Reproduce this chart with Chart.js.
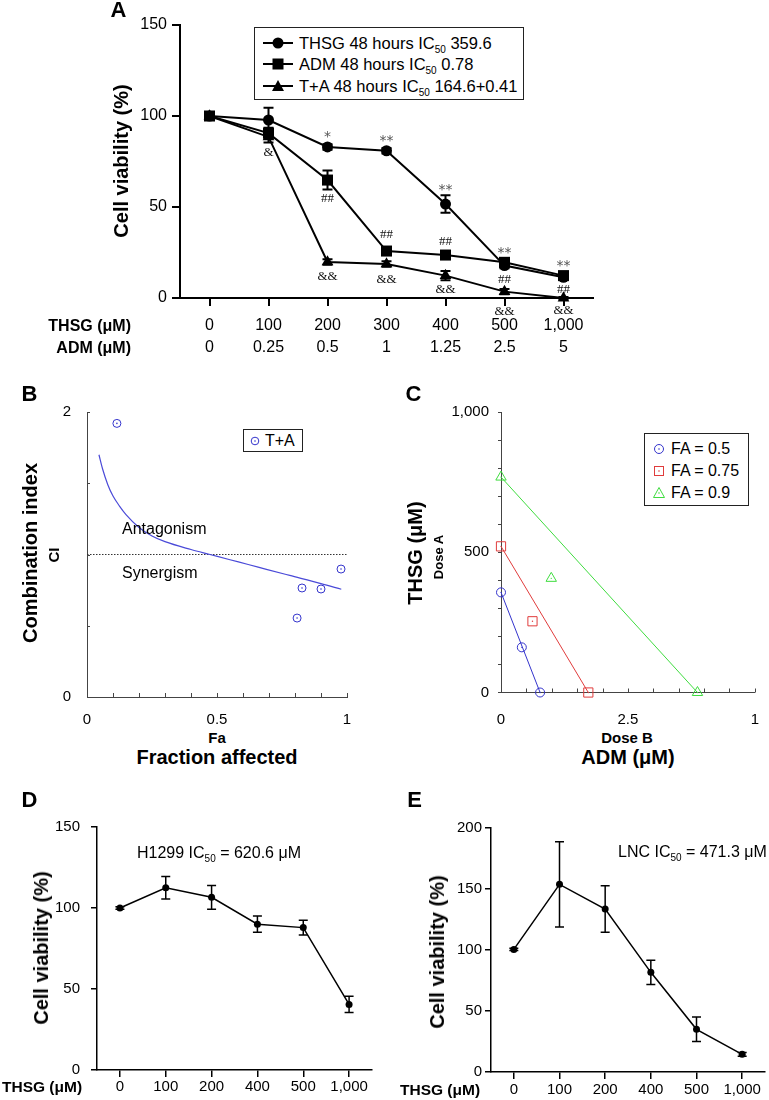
<!DOCTYPE html>
<html>
<head>
<meta charset="utf-8">
<script src="https://cdn.jsdelivr.net/npm/chart.js@4.4.0/dist/chart.umd.min.js"></script>
<style>
body { margin: 0; background: #fff; }
#page { position: relative; width: 769px; height: 1100px; overflow: hidden; color: #000;
        font-family: 'Liberation Sans', Arial, sans-serif; }
canvas { position: absolute; }
.t { position: absolute; white-space: nowrap; line-height: 1; }
.sub { font-size: 10px; vertical-align: -4px; line-height: 0; }
.lg { position: absolute; border: 1px solid #222; background: #fff; box-sizing: border-box; }
.lg svg, .lg span.row { position: absolute; }
.lg span.row { white-space: nowrap; line-height: 1; transform: translateY(-50%); }
</style>
</head>
<body>
<div id="page">
  <canvas id="cA" width="620" height="365" style="left:0;top:0"></canvas>
  <canvas id="cB" width="385" height="345" style="left:0;top:380px"></canvas>
  <canvas id="cC" width="379" height="345" style="left:390px;top:380px"></canvas>
  <canvas id="cD" width="385" height="320" style="left:0;top:780px"></canvas>
  <canvas id="cE" width="379" height="320" style="left:390px;top:780px"></canvas>
</div>
<script>
// ---- panel A: viability at 48 hours ----
const thsgDoses = ['0', '100', '200', '300', '400', '500', '1,000'];
const admDoses = ['0', '0.25', '0.5', '1', '1.25', '2.5', '5'];
const thsgViab = [100, 97.8, 83, 80.9, 51.6, 17.8, 11.4];
const thsgErr = [0, 6.8, 1.5, 1.5, 4.8, 1.5, 1.2];
const admViab = [100, 90.6, 64.8, 25.8, 23.6, 19.6, 12.3];
const admErr = [0, 3, 5.2, 1.5, 1.5, 1.5, 1.2];
const comboViab = [100, 88.5, 19.8, 18.7, 12.3, 3.5, 0];
const comboErr = [0, 3, 1.5, 1.5, 2.5, 1.5, 0.5];
const thsgSig = ['', '', '*', '**', '**', '**', '**'];
const admSig = ['', '', '##', '##', '##', '##', '##'];
const comboSig = ['', '&', '&&', '&&', '&&', '&&', '&&'];

// ---- panel B: combination index ----
const faPoints = [0.115, 0.808, 0.827, 0.9, 0.977];
const ciPoints = [1.92, 0.554, 0.765, 0.758, 0.898];
const faCurve = [0.046, 0.06, 0.08, 0.1, 0.125, 0.15, 0.2, 0.25, 0.3, 0.4, 0.473, 0.55, 0.62, 0.69, 0.78, 0.9, 0.978];
const ciCurve = [1.70, 1.60, 1.49, 1.41, 1.34, 1.28, 1.19, 1.13, 1.09, 1.035, 1.0, 0.963, 0.93, 0.896, 0.853, 0.796, 0.756];
const ciThreshold = 1;
const faTickVals = [0, 0.5, 1];
const faTickText = ['0', '0.5', '1'];
const ciTickVals = [0, 2];
const ciTickText = ['0', '2'];

// ---- panel C: isobologram ----
const fa50Adm = [0, 0.41, 0.77];
const fa50Thsg = [357, 161, 0];
const fa75Adm = [0, 0.62, 1.72];
const fa75Thsg = [521, 254, 0];
const fa90Adm = [0, 0.99, 3.87];
const fa90Thsg = [768, 407, 0];
const doseBTickVals = [0, 2.5, 5];
const doseBTickText = ['0', '2.5', '1'];
const doseATickVals = [0, 500, 1000];
const doseATickText = ['0', '500', '1,000'];

// ---- panels D, E: THSG alone ----
const singleDoses = ['0', '100', '200', '400', '500', '1,000'];
const h1299Viab = [100, 112.5, 106.6, 90, 87.9, 40.5];
const h1299Err = [0.8, 7, 7.3, 5, 4.5, 5];
const lncViab = [100.5, 153.8, 133.6, 81.7, 35, 14.5];
const lncErr = [1, 35, 19, 10, 10, 1.5];

const BLUE = '#3434cc', RED = '#e03c3c', GREEN = '#3fdc3f';

Chart.defaults.font.family = "'Liberation Sans', Arial, sans-serif";
Chart.defaults.color = '#000';
Chart.defaults.animation = false;
Chart.defaults.plugins.legend.display = false;
Chart.defaults.plugins.tooltip.enabled = false;

// vertical error bars with caps
const errorBars = {
  id: 'errorBars',
  afterDatasetsDraw(chart, args, opts) {
    const ctx = chart.ctx;
    const y = chart.scales.y;
    chart.data.datasets.forEach((ds, di) => {
      if (!ds.errors) return;
      const meta = chart.getDatasetMeta(di);
      ctx.save();
      ctx.strokeStyle = '#000';
      ctx.lineWidth = opts.width;
      meta.data.forEach((pt, i) => {
        const e = ds.errors[i];
        if (!e) return;
        const top = y.getPixelForValue(ds.data[i] + e);
        const bot = y.getPixelForValue(ds.data[i] - e);
        ctx.beginPath();
        ctx.moveTo(pt.x, top); ctx.lineTo(pt.x, bot);
        ctx.moveTo(pt.x - opts.cap, top); ctx.lineTo(pt.x + opts.cap, top);
        ctx.moveTo(pt.x - opts.cap, bot); ctx.lineTo(pt.x + opts.cap, bot);
        ctx.stroke();
      });
      ctx.restore();
    });
  }
};

// significance symbols next to points
const sigMarks = {
  id: 'sigMarks',
  afterDraw(chart, args, opts) {
    const ctx = chart.ctx;
    opts.sets.forEach(s => {
      const meta = chart.getDatasetMeta(s.ds);
      s.text.forEach((txt, i) => {
        if (!txt) return;
        const pt = meta.data[i];
        ctx.save();
        ctx.font = s.font;
        ctx.fillStyle = s.color;
        ctx.textAlign = 'center';
        ctx.textBaseline = 'middle';
        ctx.fillText(txt, pt.x, pt.y + s.dy[i]);
        ctx.restore();
      });
    });
  }
};

// short tick marks drawn inside the plot area
const innerTicks = {
  id: 'innerTicks',
  afterDraw(chart, args, opts) {
    const ctx = chart.ctx, a = chart.chartArea;
    ctx.save();
    ctx.strokeStyle = opts.color;
    ctx.lineWidth = 1;
    ctx.beginPath();
    if (opts.x) chart.scales.x.ticks.forEach(t => {
      const px = Math.round(chart.scales.x.getPixelForValue(t.value)) + 0.5;
      ctx.moveTo(px, a.bottom); ctx.lineTo(px, a.bottom - opts.x);
    });
    if (opts.y) chart.scales.y.ticks.forEach(t => {
      const py = Math.round(chart.scales.y.getPixelForValue(t.value)) + 0.5;
      ctx.moveTo(a.left, py); ctx.lineTo(a.left + opts.y, py);
    });
    ctx.stroke();
    ctx.restore();
  }
};

function pickLabel(vals, texts) {
  return v => {
    const k = vals.findIndex(x => Math.abs(x - v) < 1e-6);
    return k < 0 ? '' : texts[k];
  };
}
function xy(xs, ys) { return xs.map((x, i) => ({ x: x, y: ys[i] })); }
function ends(xs, ys) { return [{ x: xs[0], y: ys[0] }, { x: xs[xs.length - 1], y: ys[ys.length - 1] }]; }

// ---------- A ----------
const axA = { color: '#000', width: 2 };
const gridA = { drawOnChartArea: false, tickLength: 8, color: '#000', lineWidth: 2 };
new Chart(document.getElementById('cA'), {
  type: 'line',
  data: {
    labels: thsgDoses.map((d, i) => [d, admDoses[i]]),
    datasets: [
      { data: thsgViab, errors: thsgErr, pointStyle: 'circle', pointRadius: 5.5 },
      { data: admViab, errors: admErr, pointStyle: 'rect', pointRadius: 7.8 },
      { data: comboViab, errors: comboErr, pointStyle: 'triangle', pointRadius: 6.8 }
    ].map(d => Object.assign({ borderColor: '#000', backgroundColor: '#000', borderWidth: 2,
                               pointBorderWidth: 0, clip: false }, d))
  },
  options: {
    responsive: false, devicePixelRatio: 1,
    layout: { padding: { left: 0, top: 25, right: 27, bottom: 0 } },
    scales: {
      x: { type: 'category', offset: true, afterFit: s => { s.height = 67; },
           grid: gridA, border: axA,
           ticks: { font: { size: 16, lineHeight: '22px' }, padding: 9, maxRotation: 0, autoSkip: false } },
      y: { min: 0, max: 150, afterFit: s => { s.width = 180; },
           grid: gridA, border: axA,
           ticks: { stepSize: 50, font: { size: 16 }, padding: 5 } }
    },
    plugins: {
      errorBars: { width: 2, cap: 5 },
      sigMarks: { sets: [
        { ds: 0, text: thsgSig, font: "14px 'DejaVu Sans'", color: '#555', dy: [0, 0, -10, -9, -14, -12, -11] },
        { ds: 1, text: admSig, font: "13px 'Liberation Serif'", color: '#111', dy: [0, 0, 19, -16, -13, 17, 14] },
        { ds: 2, text: comboSig, font: "13px 'Liberation Serif'", color: '#111', dy: [0, 16, 15, 16, 14, 20, 13] }
      ] }
    }
  },
  plugins: [errorBars, sigMarks]
});

// ---------- B ----------
const axBC = { color: '#444', width: 1 };
new Chart(document.getElementById('cB'), {
  type: 'scatter',
  data: {
    datasets: [
      { type: 'line', data: xy(faCurve, ciCurve), borderColor: '#4a4ad8', borderWidth: 1.2,
        pointRadius: 0, cubicInterpolationMode: 'monotone' },
      { type: 'line', data: [{ x: 0, y: ciThreshold }, { x: 1, y: ciThreshold }], borderColor: '#333',
        borderWidth: 1, borderDash: [1.5, 1.5], pointRadius: 0 },
      { data: xy(faPoints, ciPoints), pointRadius: 4, borderColor: BLUE, backgroundColor: 'rgba(0,0,0,0)', borderWidth: 1 },
      { data: xy(faPoints, ciPoints), pointRadius: 0.8, backgroundColor: BLUE, borderWidth: 0 }
    ]
  },
  options: {
    responsive: false, devicePixelRatio: 1,
    layout: { padding: { left: 0, top: 32, right: 38, bottom: 0 } },
    scales: {
      x: { type: 'linear', min: 0, max: 1, afterFit: s => { s.height = 28; },
           grid: { display: false }, border: axBC,
           ticks: { stepSize: 0.1, font: { size: 15 }, padding: 6, maxRotation: 0, autoSkip: false,
                    callback: pickLabel(faTickVals, faTickText) } },
      y: { min: 0, max: 2, afterFit: s => { s.width = 87; },
           grid: { display: false }, border: axBC,
           ticks: { stepSize: 0.5, font: { size: 15 }, padding: 8, callback: pickLabel(ciTickVals, ciTickText) } }
    },
    plugins: { innerTicks: { x: 4, y: 3, color: '#444' } }
  },
  plugins: [innerTicks]
});

// ---------- C ----------
function isoSets(xs, ys, color, style, r) {
  return [
    { type: 'line', data: ends(xs, ys), borderColor: color, borderWidth: 1, pointRadius: 0 },
    { data: xy(xs, ys), pointStyle: style, pointRadius: r, borderColor: color,
      backgroundColor: 'rgba(0,0,0,0)', borderWidth: 1, clip: false },
    { data: xy(xs, ys), pointRadius: 0.7, backgroundColor: color, borderWidth: 0, clip: false }
  ];
}
new Chart(document.getElementById('cC'), {
  type: 'scatter',
  data: {
    datasets: [].concat(
      isoSets(fa50Adm, fa50Thsg, BLUE, 'circle', 4.5),
      isoSets(fa75Adm, fa75Thsg, RED, 'rect', 6.5),
      isoSets(fa90Adm, fa90Thsg, GREEN, 'triangle', 6))
  },
  options: {
    responsive: false, devicePixelRatio: 1,
    layout: { padding: { left: 0, top: 32, right: 12, bottom: 0 } },
    scales: {
      x: { type: 'linear', min: 0, max: 5, afterFit: s => { s.height = 32.5; },
           grid: { display: false }, border: axBC,
           ticks: { stepSize: 0.5, font: { size: 15 }, padding: 10, maxRotation: 0, autoSkip: false,
                    callback: pickLabel(doseBTickVals, doseBTickText) } },
      y: { min: 0, max: 1000, afterFit: s => { s.width = 111; },
           grid: { drawOnChartArea: false, tickLength: 3, color: '#444', lineWidth: 1 }, border: axBC,
           ticks: { stepSize: 100, font: { size: 15 }, padding: 9, callback: pickLabel(doseATickVals, doseATickText) } }
    },
    plugins: { innerTicks: { x: 4, y: 0, color: '#444' } }
  },
  plugins: [innerTicks]
});

// ---------- D, E ----------
function singleChart(id, values, errors, yMax, area, tickLen, yPad, xPad) {
  const ax = { color: '#000', width: 1.5 };
  return new Chart(document.getElementById(id), {
    type: 'line',
    data: {
      labels: singleDoses,
      datasets: [{ data: values, errors: errors, borderColor: '#000', backgroundColor: '#000',
                   borderWidth: 1.5, pointRadius: 3.5, pointBorderWidth: 0, clip: false }]
    },
    options: {
      responsive: false, devicePixelRatio: 1,
      layout: { padding: { left: 0, top: area.top, right: area.right, bottom: 0 } },
      scales: {
        x: { type: 'category', offset: true, afterFit: s => { s.height = area.xh; },
             grid: { drawOnChartArea: false, tickLength: tickLen.x, color: '#000', lineWidth: 1.5 }, border: ax,
             ticks: { font: { size: 15 }, padding: xPad, maxRotation: 0, autoSkip: false } },
        y: { min: 0, max: yMax, afterFit: s => { s.width = area.left; },
             grid: { drawOnChartArea: false, tickLength: tickLen.y, color: '#000', lineWidth: 1.5 }, border: ax,
             ticks: { stepSize: 50, font: { size: 15 }, padding: yPad } }
      },
      plugins: { errorBars: { width: 1.5, cap: 4.5 } }
    },
    plugins: [errorBars]
  });
}
singleChart('cD', h1299Viab, h1299Err, 150, { left: 97, top: 47, right: 13, xh: 30 }, { x: 7, y: 6 }, 11, 1);
singleChart('cE', lncViab, lncErr, 200, { left: 101, top: 48, right: 1, xh: 28 }, { x: 7, y: 6 }, 3, 2);

// ---------- text ----------
const page = document.getElementById('page');
function label(html, x, y, size, opts) {
  opts = opts || {};
  const d = document.createElement('div');
  d.className = 't';
  d.innerHTML = html;
  d.style.left = x + 'px';
  d.style.top = y + 'px';
  d.style.fontSize = size + 'px';
  if (opts.bold) d.style.fontWeight = 'bold';
  let tf = opts.anchor === 'left' ? 'translate(0,-50%)'
         : opts.anchor === 'right' ? 'translate(-100%,-50%)' : 'translate(-50%,-50%)';
  if (opts.rotate) tf += ' rotate(-90deg)';
  d.style.transform = tf;
  page.appendChild(d);
}
const IC = 'IC<span class="sub">50</span>';

label('A', 118.5, 10, 22, { bold: true });
label('B', 29.5, 393.5, 22, { bold: true });
label('C', 413.5, 393.5, 22, { bold: true });
label('D', 29.5, 799.5, 22, { bold: true });
label('E', 414.5, 799.5, 22, { bold: true });

label('Cell viability (%)', 121, 161, 20, { bold: true, rotate: true });
label('THSG (μM)', 131, 326, 16, { bold: true, anchor: 'right' });
label('ADM (μM)', 131, 348, 16, { bold: true, anchor: 'right' });

label('Combination index', 30, 553, 20, { bold: true, rotate: true });
label('CI', 53, 555, 15, { bold: true, rotate: true });
label('Antagonism', 122, 529, 16, { anchor: 'left' });
label('Synergism', 122, 573, 16, { anchor: 'left' });
label('Fa', 217, 737, 15, { bold: true });
label('Fraction affected', 217, 757, 20, { bold: true });

label('THSG (μM)', 415, 553, 20, { bold: true, rotate: true });
label('Dose A', 438, 557, 13, { bold: true, rotate: true });
label('Dose B', 627, 737, 15, { bold: true });
label('ADM (μM)', 628, 757, 20, { bold: true });

label('Cell viability (%)', 41, 948, 20, { bold: true, rotate: true });
label('THSG (μM)', 2, 1087, 15.5, { bold: true, anchor: 'left' });
label('H1299 ' + IC + ' = 620.6 μM', 137, 853, 16, { anchor: 'left' });

label('Cell viability (%)', 437, 952, 20, { bold: true, rotate: true });
label('THSG (μM)', 400, 1090, 15.5, { bold: true, anchor: 'left' });
label('LNC ' + IC + ' = 471.3 μM', 618, 852, 16, { anchor: 'left' });

// ---------- legends ----------
function legendBox(x, y, w, h, rows, textLeft, size) {
  const box = document.createElement('div');
  box.className = 'lg';
  box.style.cssText = 'left:' + x + 'px;top:' + y + 'px;width:' + w + 'px;height:' + h + 'px';
  rows.forEach(r => {
    box.insertAdjacentHTML('beforeend',
      '<svg width="' + r.w + '" height="16" style="left:' + r.x + 'px;top:' + (r.y - 8) + 'px">' + r.svg + '</svg>' +
      '<span class="row" style="left:' + textLeft + 'px;top:' + r.y + 'px;font-size:' + size + 'px">' + r.text + '</span>');
  });
  page.appendChild(box);
}
const lineSeg = '<line x1="0" y1="8" x2="30" y2="8" stroke="#000" stroke-width="2"/>';
legendBox(254, 27, 270, 73, [
  { x: 8, y: 15, w: 32, text: 'THSG 48 hours ' + IC + ' 359.6', svg: lineSeg + '<circle cx="15" cy="8" r="5.5" fill="#000"/>' },
  { x: 8, y: 36, w: 32, text: 'ADM 48 hours ' + IC + ' 0.78', svg: lineSeg + '<rect x="9.5" y="2.5" width="11" height="11" fill="#000"/>' },
  { x: 8, y: 58, w: 32, text: 'T+A 48 hours ' + IC + ' 164.6+0.41', svg: lineSeg + '<polygon points="15,2 21,13 9,13" fill="#000"/>' }
], 44, 16.5);

const dot = c => '<circle cx="8" cy="8" r="0.8" fill="' + c + '"/>';
legendBox(243, 429, 60, 23, [
  { x: 3, y: 11, w: 16, text: 'T+A', svg: '<circle cx="8" cy="8" r="3.8" fill="none" stroke="' + BLUE + '"/>' + dot(BLUE) }
], 21, 16);

legendBox(644, 433, 105, 73, [
  { x: 6, y: 15, w: 16, text: 'FA = 0.5', svg: '<circle cx="8" cy="8" r="4.5" fill="none" stroke="' + BLUE + '"/>' + dot(BLUE) },
  { x: 6, y: 37, w: 16, text: 'FA = 0.75', svg: '<rect x="3.5" y="3.5" width="9" height="9" fill="none" stroke="' + RED + '"/>' + dot(RED) },
  { x: 6, y: 59, w: 16, text: 'FA = 0.9', svg: '<polygon points="8,2.5 13.5,12.5 2.5,12.5" fill="none" stroke="' + GREEN + '"/>' + dot(GREEN) }
], 26, 16);
</script>
</body>
</html>
